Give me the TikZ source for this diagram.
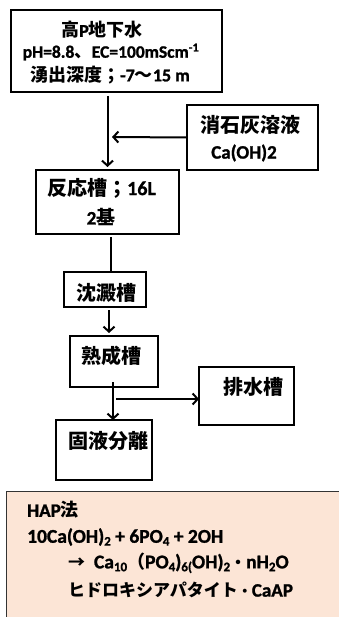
\documentclass[tikz,border=0pt]{standalone}
\usepackage{fontspec}
\setmainfont{Carlito}[BoldFont={Carlito Bold},BoldFeatures={FakeBold=1.2}]
\newfontfamily\jp{Noto Sans CJK JP Bold}
\usetikzlibrary{arrows.meta}
\definecolor{peach}{RGB}{252,229,214}
\newcommand{\fs}[1]{\fontsize{#1}{#1}\selectfont\bfseries}
\newcommand{\sbs}[1]{\raisebox{-0.3ex}{\fontsize{13}{13}\selectfont\bfseries #1}}
\begin{document}
\begin{tikzpicture}[x=1pt,y=-1pt,
  box/.style={draw,line width=2.4pt,inner sep=0pt,outer sep=0pt},
  txt/.style={inner sep=0pt},
  conn/.style={line width=2pt},
  arr/.style={line width=2pt,-{Straight Barb[length=5pt,width=11pt,line width=2pt]}}]
\useasboundingbox (0,0) rectangle (339,617);
% boxes
\node[box,minimum width=211pt,minimum height=82pt] (src) at (116.5,51) {};
\node[box,minimum width=131pt,minimum height=65pt] (lime) at (252.5,137.5) {};
\node[box,minimum width=143pt,minimum height=64pt] (react) at (107.5,202) {};
\node[box,minimum width=82pt,minimum height=35pt] (sed) at (105,289.5) {};
\node[box,minimum width=88pt,minimum height=51pt] (mat) at (114,361.5) {};
\node[box,minimum width=95pt,minimum height=58pt] (drain) at (246.5,396) {};
\node[box,minimum width=96pt,minimum height=60pt] (sep) at (104,450) {};
\node[draw=black!80,line width=1pt,fill=peach,inner sep=0pt,outer sep=0pt,
  minimum width=339pt,minimum height=134pt] (hap) at (175.5,558) {};
% texts
\node[txt] (t1) at (102,30) {\fs{18}{\jp 高}P{\jp 地下水}};
\node[txt] (t2) at (111,52) {\fs{17.5}pH=8.8{\jp 、}EC=100mScm\textsuperscript{-1}};
\node[txt] (t3) at (110,75) {\fs{18}{\jp 湧出深度；}-7{\jp ～}15 m};
\node[txt] (t4) at (250,125) {\fs{20}\jp 消石灰溶液};
\node[txt] (t5) at (244,153) {\fs{19}Ca(OH)2};
\node[txt,anchor=west] (t6) at (47,188) {\fs{20}{\jp 反応槽；}16L};
\node[txt] (t7) at (101,217) {\fs{19}2{\jp 基}};
\node[txt] (t8) at (106,293) {\fs{20}\jp 沈澱槽};
\node[txt] (t9) at (111,356) {\fs{20}\jp 熟成槽};
\node[txt] (t10) at (253,387) {\fs{20}\jp 排水槽};
\node[txt] (t11) at (108,441) {\fs{20}\jp 固液分離};
\node[txt,anchor=west] (h1) at (27,510) {\fs{19}HAP{\fs{18}\jp 法}};
\node[txt,anchor=west] (h2) at (27,537) {\fs{19.5}10Ca(OH)\sbs{2} + 6PO\sbs{4} + 2OH};
\node[txt,anchor=west] (h3) at (68,563) {\fs{19.5}{\fs{17}\jp →}\ \ Ca\sbs{10}{\fs{18}\jp （}PO\sbs{4})\sbs{6(}OH)\sbs{2}{\fs{16}\jp ・}nH\sbs{2}O};
\node[txt,anchor=west] (h4) at (68,590) {\fs{17}{\jp ヒドロキシアパタイト}{\fs{14}\jp ・}{\fs{19}CaAP}};
% connectors
\coordinate (j1) at (112,137);
\coordinate (br) at (116,399);
\draw[arr] ([yshift=-4pt]src.south -| react.north) -- ([yshift=3pt]react.north);
\draw[arr] (lime.west) -- (j1);
\draw[conn] ([xshift=3.5pt,yshift=-3pt]react.south) -- ([xshift=3.5pt]react.south |- sed.north);
\draw[arr] ([xshift=4pt,yshift=-3pt]sed.south) -- ([xshift=4pt,yshift=3pt]sed.south |- mat.north);
\draw[arr] ([xshift=-1pt,yshift=5pt]mat.south) -- ([xshift=-1pt]mat.south |- sep.north);
\draw[arr] (br) -- (br -| drain.west);
\end{tikzpicture}
\end{document}
